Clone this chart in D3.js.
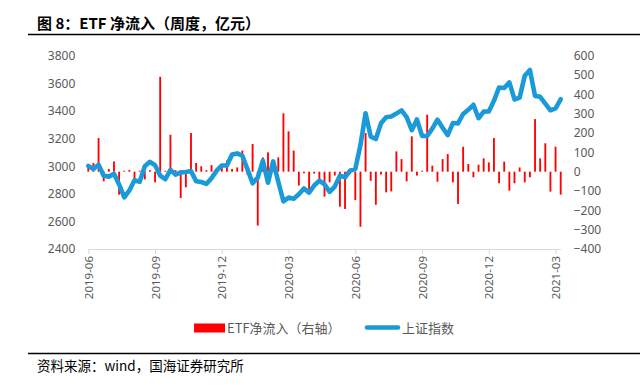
<!DOCTYPE html>
<html><head><meta charset="utf-8">
<script src="https://cdn.jsdelivr.net/npm/d3@7/dist/d3.min.js"></script>
<style>body{margin:0;background:#fff}svg{display:block}</style>
</head><body>
<svg id="c" width="640" height="389"></svg>
<script>
// ---- data ----
const dates = [
"2019-06-21","2019-06-28","2019-07-05","2019-07-12","2019-07-19","2019-07-26","2019-08-02","2019-08-09","2019-08-16","2019-08-23",
"2019-08-30","2019-09-06","2019-09-12","2019-09-20","2019-09-27","2019-10-04","2019-10-11","2019-10-18","2019-10-25","2019-11-01",
"2019-11-08","2019-11-15","2019-11-22","2019-11-29","2019-12-06","2019-12-13","2019-12-20","2019-12-27","2020-01-03","2020-01-10",
"2020-01-17","2020-01-23","2020-02-07","2020-02-14","2020-02-21","2020-02-28","2020-03-06","2020-03-13","2020-03-20","2020-03-27",
"2020-04-03","2020-04-10","2020-04-17","2020-04-24","2020-04-30","2020-05-08","2020-05-15","2020-05-22","2020-05-29","2020-06-05",
"2020-06-12","2020-06-19","2020-06-24","2020-07-03","2020-07-10","2020-07-17","2020-07-24","2020-07-31","2020-08-07","2020-08-14",
"2020-08-21","2020-08-28","2020-09-04","2020-09-11","2020-09-18","2020-09-25","2020-09-30","2020-10-09","2020-10-16","2020-10-23",
"2020-10-30","2020-11-06","2020-11-13","2020-11-20","2020-11-27","2020-12-04","2020-12-11","2020-12-18","2020-12-25","2020-12-31",
"2021-01-08","2021-01-15","2021-01-22","2021-01-29","2021-02-05","2021-02-10","2021-02-19","2021-02-26","2021-03-05","2021-03-12",
"2021-03-19","2021-03-26","2021-04-02"];

const sseIndex = [
3001.98,2978.88,3011.06,2930.55,2924.20,2944.54,2867.84,2774.75,2823.82,2897.43,
2886.24,2999.60,3031.24,3006.45,2932.17,2905.19,2973.66,2938.14,2954.93,2958.20,
2964.18,2891.34,2885.29,2871.98,2912.01,2967.68,3004.94,3005.04,3083.79,3092.29,
3075.50,2976.53,2875.96,2917.01,3039.67,2880.30,3034.51,2887.43,2745.62,2772.20,
2763.99,2796.63,2838.49,2808.53,2860.08,2895.34,2868.46,2813.77,2852.35,2930.80,
2919.74,2967.63,2979.55,3152.81,3383.32,3214.13,3196.77,3310.01,3354.04,3360.10,
3380.68,3403.81,3355.37,3260.35,3338.09,3219.42,3218.05,3272.08,3336.36,3278.00,
3224.53,3312.16,3310.10,3377.73,3408.31,3444.58,3347.19,3394.90,3396.56,3473.07,
3570.11,3566.38,3606.75,3483.07,3496.33,3655.09,3696.17,3509.08,3501.99,3453.08,
3404.66,3418.33,3484.39];

const etfNetInflow = [
35,45,174,-50,14,53,-119,5,9,-45,
5,-40,8,-55,491,5,191,8,-136,-81,
200,45,28,8,34,5,28,58,14,22,
109,-15,143,-279,74,100,57,74,302,209,
109,-72,-8,-90,-10,-55,-129,-55,-20,-181,
-193,-10,-147,-285,200,-47,-171,-15,-107,-102,
105,65,-50,183,-20,5,295,31,-52,65,
91,-55,-167,129,40,-29,36,69,48,174,
-60,52,-98,-60,22,-55,-29,272,69,147,
-103,129,-119];

const leftTicks = [2400,2600,2800,3000,3200,3400,3600,3800];
const rightTicks = [-400,-300,-200,-100,0,100,200,300,400,500,600];
const xTickDates = ["2019-06-21","2019-09-20","2019-12-20","2020-03-27","2020-06-24","2020-09-25","2020-12-25","2021-03-26"];

const titleText = "图 8：ETF 净流入（周度，亿元）";
const sourceText = "资料来源：wind，国海证券研究所";
const legendBar = "ETF净流入（右轴）";
const legendLine = "上证指数";

// ---- layout ----
const svg = d3.select("#c");
const L = 88.3, R = 560.7, T = 55.7, B = 249;
const gray = "#595959";
const red = "#ff0000";
const blue = "#1a9ad8";
const numFont = "'Noto Sans', 'Open Sans', sans-serif";
const cjkFont = "'Noto Sans CJK SC', sans-serif";

svg.append("rect").attr("width",640).attr("height",389).attr("fill","#fff");

// title
svg.append("text").attr("x",37).attr("y",28.5).text(titleText)
  .attr("font-family",cjkFont).attr("font-size",15).attr("font-weight","bold").attr("fill","#000");
svg.append("line").attr("x1",28).attr("x2",640).attr("y1",34.5).attr("y2",34.5)
  .attr("stroke","#000").attr("stroke-width",1.4);

// source
svg.append("line").attr("x1",28).attr("x2",640).attr("y1",353.5).attr("y2",353.5)
  .attr("stroke","#000").attr("stroke-width",1.4);
svg.append("text").attr("x",37).attr("y",371).text(sourceText)
  .attr("font-family",cjkFont).attr("font-size",13.5).attr("fill","#000");

// scales
const x = d3.scalePoint().domain(dates).range([L, R]);
const yL = d3.scaleLinear().domain([2400, 3800]).range([B, T]);
const yR = d3.scaleLinear().domain([-400, 600]).range([B, T]);

// bars
const barW = x.step() * 0.36;
svg.append("g").selectAll("rect").data(etfNetInflow).join("rect")
  .attr("x", (d,i) => x(dates[i]) - barW/2)
  .attr("y", d => d >= 0 ? yR(d) : yR(0))
  .attr("width", barW)
  .attr("height", d => Math.abs(yR(d) - yR(0)))
  .attr("fill", red);

// line
const line = d3.line().x((d,i) => x(dates[i])).y(d => yL(d)).curve(d3.curveLinear);
svg.append("path").datum(sseIndex).attr("d", line)
  .attr("fill","none").attr("stroke",blue).attr("stroke-width",4.6)
  .attr("stroke-linejoin","round").attr("stroke-linecap","round");

// x axis
const xAxis = d3.axisBottom(x).tickValues(xTickDates).tickFormat(d => d.slice(0,7))
  .tickSizeInner(5).tickSizeOuter(0);
const gx = svg.append("g").attr("transform",`translate(0,${B})`).call(xAxis);
gx.select(".domain").attr("stroke","#d9d9d9");
gx.selectAll(".tick line").attr("stroke","#d9d9d9");
gx.selectAll(".tick text")
  .attr("transform","rotate(-90)").attr("x",-7).attr("y",0).attr("dy","0.35em")
  .attr("text-anchor","end").attr("fill",gray)
  .attr("font-family",numFont).attr("font-size",11.5);

// left axis
const gl = svg.append("g").attr("transform",`translate(${L},0)`)
  .call(d3.axisLeft(yL).tickValues(leftTicks).tickFormat(d3.format("d")).tickSize(0).tickPadding(13));
gl.select(".domain").remove();
gl.selectAll("text").attr("fill",gray).attr("font-family",numFont).attr("font-size",12);

// right axis
const gr = svg.append("g").attr("transform",`translate(${R},0)`)
  .call(d3.axisRight(yR).tickValues(rightTicks).tickFormat(d3.format("d")).tickSize(0).tickPadding(13));
gr.select(".domain").remove();
gr.selectAll("text").attr("fill",gray).attr("font-family",numFont).attr("font-size",12);

// legend
const lg = svg.append("g");
lg.append("rect").attr("x",194).attr("y",323.5).attr("width",31).attr("height",9).attr("fill",red);
lg.append("text").attr("x",227).attr("y",328).attr("dy","0.35em").text(legendBar)
  .attr("font-family",cjkFont).attr("font-size",13).attr("fill",gray);
lg.append("line").attr("x1",367).attr("x2",398).attr("y1",327.5).attr("y2",327.5)
  .attr("stroke",blue).attr("stroke-width",4.6).attr("stroke-linecap","round");
lg.append("text").attr("x",402).attr("y",328).attr("dy","0.35em").text(legendLine)
  .attr("font-family",cjkFont).attr("font-size",13).attr("fill",gray);
</script>
</body></html>
